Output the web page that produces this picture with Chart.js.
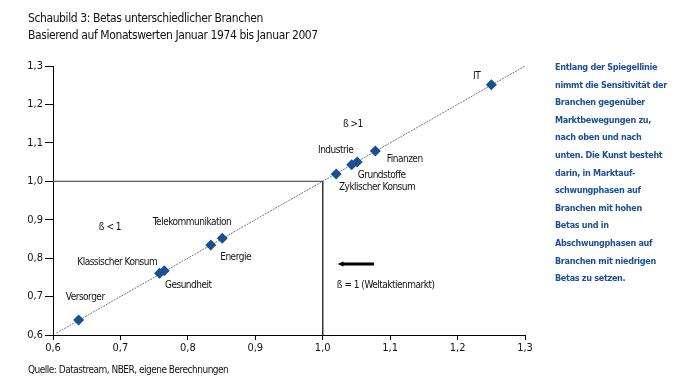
<!DOCTYPE html>
<html>
<head>
<meta charset="utf-8">
<script src="https://cdn.jsdelivr.net/npm/chart.js@4/dist/chart.umd.min.js"></script>
<style>
  body { margin: 0; background: #fff; }
  #wrap { position: relative; width: 675px; height: 389px; font-family: "Liberation Sans Narrow", "DejaVu Sans Condensed", sans-serif; }
  #chart { position: absolute; left: 0; top: 0; }
  .titel { position: absolute; left: 28px; font-size: 12px; letter-spacing: -0.4px; color: #111; white-space: nowrap; }
  #quelle { position: absolute; left: 28px; top: 364px; font-size: 10px; letter-spacing: -0.5px; color: #111; white-space: nowrap; }
  #notiz { position: absolute; left: 555px; top: 59px; font-size: 9px; line-height: 17.6px; letter-spacing: -0.3px; color: #1d4f91; font-weight: bold; white-space: nowrap; }
</style>
</head>
<body>
<div id="wrap">
  <canvas id="chart" width="675" height="389"></canvas>
  <div class="titel" style="top:11px">Schaubild 3: Betas unterschiedlicher Branchen</div>
  <div class="titel" style="top:28px">Basierend auf Monatswerten Januar 1974 bis Januar 2007</div>
  <div id="quelle">Quelle: Datastream, NBER, eigene Berechnungen</div>
  <div id="notiz">Entlang der Spiegellinie<br>nimmt die Sensitivität der<br>Branchen gegenüber<br>Marktbewegungen zu,<br>nach oben und nach<br>unten. Die Kunst besteht<br>darin, in Marktauf-<br>schwungphasen auf<br>Branchen mit hohen<br>Betas und in<br>Abschwungphasen auf<br>Branchen mit niedrigen<br>Betas zu setzen.</div>
</div>
<script>
// Daten
const branchen = ['Versorger', 'Klassischer Konsum', 'Gesundheit', 'Telekommunikation', 'Energie',
    'Zyklischer Konsum', 'Grundstoffe', 'Industrie', 'Finanzen', 'IT'];
const betaX = [0.638, 0.758, 0.765, 0.834, 0.851, 1.020, 1.043, 1.051, 1.078, 1.250];
const betaY = [0.639, 0.761, 0.767, 0.834, 0.852, 1.019, 1.043, 1.050, 1.079, 1.251];
const achsenTicks = [0.6, 0.7, 0.8, 0.9, 1.0, 1.1, 1.2, 1.3];

// Beschriftungen (Position in Achsenwerten)
const labelPos = [
    [0.619, 0.699], [0.636, 0.790], [0.766, 0.730], [0.748, 0.894], [0.848, 0.803],
    [1.024, 0.985], [1.052, 1.016], [0.993, 1.081], [1.095, 1.058], [1.223, 1.274]
];
const notizen = [
    { text: 'ß < 1', x: 0.668, y: 0.881 },
    { text: 'ß >1', x: 1.030, y: 1.149 },
    { text: 'ß = 1 (Weltaktienmarkt)', x: 1.021, y: 0.730 }
];

const fmt = v => v.toFixed(1).replace('.', ',');
const schrift = '"Liberation Sans Narrow", "DejaVu Sans Condensed", sans-serif';

// Beschriftungen und Pfeil zeichnen
const beschriftung = {
    id: 'beschriftung',
    afterDatasetsDraw(chart) {
        const { ctx, scales: { x, y } } = chart;
        ctx.save();
        ctx.fillStyle = '#111';
        ctx.font = '10px ' + schrift;
        ctx.letterSpacing = '-0.5px';
        ctx.textAlign = 'left';
        ctx.textBaseline = 'middle';
        branchen.forEach((name, i) => {
            ctx.fillText(name, x.getPixelForValue(labelPos[i][0]), y.getPixelForValue(labelPos[i][1]));
        });
        notizen.forEach(n => ctx.fillText(n.text, x.getPixelForValue(n.x), y.getPixelForValue(n.y)));

        // Pfeil nach links
        const x1 = x.getPixelForValue(1.076), x0 = x.getPixelForValue(1.022), py = y.getPixelForValue(0.785);
        ctx.strokeStyle = '#000';
        ctx.lineWidth = 3;
        ctx.beginPath();
        ctx.moveTo(x1, py);
        ctx.lineTo(x0 + 4, py);
        ctx.stroke();
        ctx.beginPath();
        ctx.moveTo(x0, py);
        ctx.lineTo(x0 + 6, py - 2.5);
        ctx.lineTo(x0 + 6, py + 2.5);
        ctx.closePath();
        ctx.fillStyle = '#000';
        ctx.fill();
        ctx.restore();
    }
};

new Chart(document.getElementById('chart'), {
    type: 'scatter',
    data: {
        datasets: [
            {
                label: 'Branchen',
                data: betaX.map((v, i) => ({ x: v, y: betaY[i] })),
                pointStyle: 'rectRot',
                pointRadius: 5.5,
                pointHoverRadius: 5.5,
                backgroundColor: '#1b4f8f',
                borderColor: '#1b4f8f',
                borderWidth: 0,
                order: 0
            },
            {
                label: 'Spiegellinie',
                type: 'line',
                data: [{ x: 0.605, y: 0.605 }, { x: 1.3, y: 1.3 }],
                borderColor: '#555',
                borderWidth: 0.8,
                borderDash: [2, 1],
                pointRadius: 0,
                order: 1
            },
            {
                label: 'Markt',
                type: 'line',
                data: [{ x: 0.6, y: 1.0 }, { x: 1.0, y: 1.0 }, { x: 1.0, y: 0.6 }],
                borderColor: '#333',
                borderWidth: 1,
                pointRadius: 0,
                order: 2
            }
        ]
    },
    options: {
        responsive: false,
        animation: false,
        layout: { padding: { top: 66, right: 150, bottom: 30, left: 0 } },
        plugins: { legend: { display: false }, tooltip: { enabled: false } },
        scales: {
            x: {
                type: 'linear',
                min: 0.6,
                max: 1.3,
                afterBuildTicks: s => { s.ticks = achsenTicks.map(v => ({ value: v })); },
                afterFit: s => { s.height = 24; },
                border: { color: '#000', width: 1 },
                grid: { drawOnChartArea: false, tickLength: 5, color: '#000' },
                ticks: { color: '#111', padding: 2, font: { family: schrift, size: 11 }, callback: v => fmt(v) }
            },
            y: {
                type: 'linear',
                min: 0.6,
                max: 1.3,
                afterBuildTicks: s => { s.ticks = achsenTicks.map(v => ({ value: v })); },
                afterFit: s => { s.width = 53; },
                border: { color: '#000', width: 1 },
                grid: { drawOnChartArea: false, tickLength: 8, color: '#000' },
                ticks: { color: '#111', padding: 2, font: { family: schrift, size: 11 }, callback: v => fmt(v) }
            }
        }
    },
    plugins: [beschriftung]
});
</script>
</body>
</html>
